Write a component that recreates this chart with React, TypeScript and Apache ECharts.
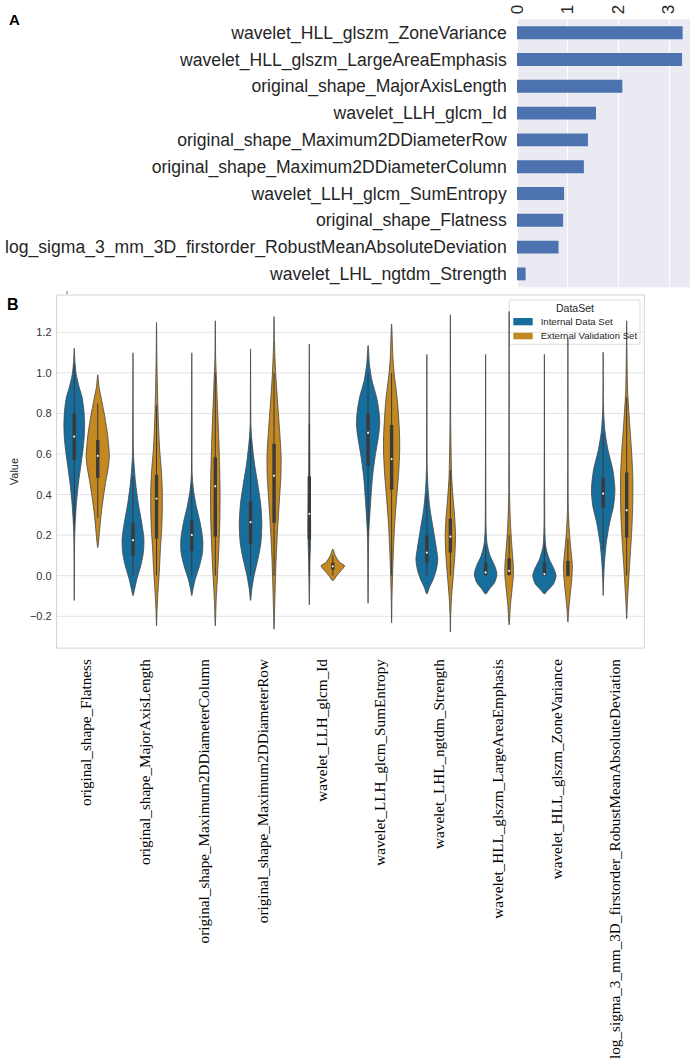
import React, { useEffect, useRef } from "react";
import * as echarts from "echarts";

// ---------- Panel A data ----------
const featuresA = [
  "wavelet_HLL_glszm_ZoneVariance",
  "wavelet_HLL_glszm_LargeAreaEmphasis",
  "original_shape_MajorAxisLength",
  "wavelet_LLH_glcm_Id",
  "original_shape_Maximum2DDiameterRow",
  "original_shape_Maximum2DDiameterColumn",
  "wavelet_LLH_glcm_SumEntropy",
  "original_shape_Flatness",
  "log_sigma_3_mm_3D_firstorder_RobustMeanAbsoluteDeviation",
  "wavelet_LHL_ngtdm_Strength",
];
const importanceA = [3.27, 3.26, 2.08, 1.56, 1.4, 1.32, 0.93, 0.91, 0.82, 0.17];

// ---------- Panel B data ----------
const featuresB = [
  "original_shape_Flatness",
  "original_shape_MajorAxisLength",
  "original_shape_Maximum2DDiameterColumn",
  "original_shape_Maximum2DDiameterRow",
  "wavelet_LLH_glcm_Id",
  "wavelet_LLH_glcm_SumEntropy",
  "wavelet_LHL_ngtdm_Strength",
  "wavelet_HLL_glszm_LargeAreaEmphasis",
  "wavelet_HLL_glszm_ZoneVariance",
  "log_sigma_3_mm_3D_firstorder_RobustMeanAbsoluteDeviation",
];
const hueNames = ["Internal Data Set", "External Validation Set"];
const yTicksB = [-0.2, 0, 0.2, 0.4, 0.6, 0.8, 1.0, 1.2];

// density profiles: [value, relative half-width (1 = full half slot)]
const internalViolins = [
  [[1.122, 0], [1.061, 0.05], [0.996, 0.16], [0.931, 0.41], [0.882, 0.66], [0.816, 0.82], [0.751, 0.88], [0.686, 0.85], [0.62, 0.74], [0.539, 0.55], [0.457, 0.36], [0.359, 0.19], [0.261, 0.08], [0.163, 0.03], [-0.122, 0]],
  [[1.099, 0], [0.62, 0.03], [0.555, 0.08], [0.457, 0.22], [0.359, 0.44], [0.261, 0.74], [0.18, 0.93], [0.114, 0.88], [0.049, 0.66], [-0.016, 0.33], [-0.065, 0.14], [-0.098, 0]],
  [[1.099, 0], [0.506, 0.03], [0.424, 0.14], [0.343, 0.38], [0.261, 0.71], [0.18, 0.93], [0.114, 0.91], [0.049, 0.66], [-0.016, 0.3], [-0.065, 0.11], [-0.098, 0]],
  [[1.118, 0], [0.751, 0.03], [0.669, 0.11], [0.555, 0.33], [0.457, 0.6], [0.359, 0.85], [0.261, 0.96], [0.163, 0.88], [0.082, 0.63], [0.0, 0.3], [-0.065, 0.11], [-0.122, 0]],
  [[1.143, 0], [0.751, 0.03], [0.49, 0.05], [0.359, 0.08], [0.261, 0.11], [0.163, 0.1], [0.065, 0.05], [-0.033, 0.03], [-0.144, 0]],
  [[1.135, 0], [1.045, 0.11], [0.963, 0.33], [0.882, 0.71], [0.816, 0.91], [0.751, 0.99], [0.686, 0.88], [0.588, 0.6], [0.49, 0.38], [0.392, 0.25], [0.294, 0.14], [0.196, 0.05], [-0.136, 0]],
  [[1.091, 0], [0.539, 0.03], [0.424, 0.11], [0.327, 0.27], [0.229, 0.55], [0.131, 0.82], [0.082, 0.93], [0.033, 0.82], [-0.016, 0.55], [-0.057, 0.22], [-0.09, 0]],
  [[1.091, 0], [0.261, 0.03], [0.163, 0.11], [0.098, 0.38], [0.049, 0.77], [0.008, 0.96], [-0.033, 0.77], [-0.065, 0.33], [-0.09, 0]],
  [[1.091, 0], [0.261, 0.03], [0.147, 0.11], [0.082, 0.41], [0.033, 0.82], [0.0, 0.99], [-0.041, 0.77], [-0.073, 0.27], [-0.09, 0]],
  [[1.102, 0], [0.833, 0.03], [0.718, 0.14], [0.62, 0.41], [0.522, 0.82], [0.424, 1.0], [0.343, 0.88], [0.261, 0.55], [0.163, 0.27], [0.065, 0.11], [-0.033, 0.03], [-0.098, 0]],
];
const externalViolins = [
  [[0.991, 0], [0.931, 0.11], [0.865, 0.33], [0.784, 0.6], [0.702, 0.82], [0.62, 0.96], [0.588, 0.99], [0.539, 0.91], [0.473, 0.71], [0.392, 0.49], [0.294, 0.27], [0.212, 0.14], [0.139, 0]],
  [[1.249, 0], [1.078, 0.03], [0.914, 0.08], [0.751, 0.16], [0.62, 0.27], [0.522, 0.41], [0.424, 0.49], [0.327, 0.49], [0.229, 0.44], [0.131, 0.33], [0.033, 0.25], [-0.065, 0.14], [-0.163, 0.05], [-0.248, 0]],
  [[1.257, 0], [1.078, 0.03], [0.996, 0.08], [0.833, 0.19], [0.669, 0.3], [0.506, 0.38], [0.392, 0.41], [0.261, 0.38], [0.131, 0.3], [0.0, 0.19], [-0.114, 0.08], [-0.248, 0]],
  [[1.278, 0], [1.159, 0.03], [0.996, 0.14], [0.833, 0.33], [0.702, 0.49], [0.588, 0.6], [0.49, 0.58], [0.359, 0.44], [0.229, 0.3], [0.098, 0.19], [-0.033, 0.11], [-0.163, 0.05], [-0.264, 0]],
  [[0.131, 0], [0.098, 0.22], [0.065, 0.6], [0.049, 1.0], [0.024, 0.69], [0.0, 0.33], [-0.024, 0]],
  [[1.241, 0], [1.078, 0.11], [0.996, 0.22], [0.865, 0.49], [0.718, 0.66], [0.62, 0.69], [0.506, 0.6], [0.392, 0.44], [0.261, 0.27], [0.131, 0.16], [0.0, 0.08], [-0.114, 0.03], [-0.233, 0]],
  [[1.287, 0], [0.751, 0.03], [0.49, 0.11], [0.392, 0.22], [0.294, 0.36], [0.196, 0.44], [0.098, 0.38], [0.0, 0.25], [-0.098, 0.11], [-0.196, 0.03], [-0.278, 0]],
  [[1.303, 0], [0.424, 0.03], [0.261, 0.11], [0.131, 0.25], [0.049, 0.36], [0.0, 0.36], [-0.065, 0.25], [-0.147, 0.11], [-0.242, 0]],
  [[1.17, 0], [0.343, 0.03], [0.229, 0.11], [0.131, 0.25], [0.049, 0.38], [-0.016, 0.33], [-0.098, 0.19], [-0.163, 0.08], [-0.229, 0]],
  [[1.257, 0], [1.135, 0.02], [0.914, 0.08], [0.751, 0.25], [0.62, 0.41], [0.49, 0.52], [0.359, 0.52], [0.229, 0.44], [0.098, 0.3], [-0.033, 0.16], [-0.147, 0.05], [-0.212, 0]],
];
// [q1, median, q3, whiskerLow, whiskerHigh]
const internalBoxes = [
  [0.571, 0.686, 0.8, 0.25, 1.04],
  [0.098, 0.175, 0.261, 0.0, 0.49],
  [0.122, 0.201, 0.273, 0.0, 0.45],
  [0.155, 0.264, 0.367, 0.0, 0.68],
  [0.18, 0.305, 0.49, 0.0, 0.75],
  [0.539, 0.705, 0.8, 0.2, 1.0],
  [0.062, 0.114, 0.199, 0.0, 0.4],
  [0.003, 0.016, 0.065, 0.0, 0.15],
  [0.0, 0.008, 0.065, 0.0, 0.16],
  [0.335, 0.405, 0.482, 0.13, 0.7],
];
const externalBoxes = [
  [0.482, 0.591, 0.669, 0.286, 0.849],
  [0.183, 0.38, 0.498, 0.0, 0.84],
  [0.193, 0.441, 0.584, 0.0, 1.0],
  [0.261, 0.493, 0.65, 0.0, 1.0],
  [0.029, 0.046, 0.065, 0.0, 0.1],
  [0.424, 0.575, 0.743, 0.0, 1.0],
  [0.114, 0.193, 0.281, 0.0, 0.52],
  [0.003, 0.024, 0.085, 0.0, 0.2],
  [-0.003, 0.029, 0.073, 0.0, 0.18],
  [0.188, 0.323, 0.509, 0.0, 0.88],
];

const BLUE = "#176d9c";
const ORANGE = "#c38820";
const SANS = "'Liberation Sans', Arial, sans-serif";
const SERIF = "'Liberation Serif', 'Times New Roman', serif";

function violinRenderer(profiles: number[][][], boxes: number[][], offset: number, color: string) {
  return (params: any, api: any) => {
    const i = api.value(0);
    const prof = profiles[i];
    const box = boxes[i];
    const band = api.size([1, 0])[0];
    const cx = api.coord([i, 0])[0] + offset * band;
    const maxHw = 0.2 * band;
    const py = (v: number) => api.coord([i, v])[1];
    const right = prof.map(([v, w]) => [cx + w * maxHw, py(v)]);
    const left = prof
      .slice(1, prof.length - 1)
      .reverse()
      .map(([v, w]) => [cx - w * maxHw, py(v)]);
    const pts = right.concat(left);
    const [q1, med, q3, lo, hi] = box;
    return {
      type: "group",
      children: [
        {
          type: "polygon",
          shape: { points: pts, smooth: 0.25 },
          style: { fill: color, stroke: "#454545", lineWidth: 0.8 },
        },
        {
          type: "line",
          shape: { x1: cx, y1: py(lo), x2: cx, y2: py(hi) },
          style: { stroke: "#3a3a3a", lineWidth: 1 },
        },
        {
          type: "rect",
          shape: { x: cx - 1.7, y: py(q3), width: 3.4, height: py(q1) - py(q3) },
          style: { fill: "#3a3a3a" },
        },
        {
          type: "circle",
          shape: { cx: cx, cy: py(med), r: 1.1 },
          style: { fill: "#f2f2f2" },
        },
      ],
    };
  };
}

export default function App() {
  const ref = useRef<HTMLDivElement>(null);
  useEffect(() => {
    if (!ref.current) return;
    const chart = echarts.init(ref.current, null, { renderer: "svg" });
    const option: any = {
      animation: false,
      backgroundColor: "#ffffff",
      grid: [
        {
          left: 517,
          top: 19.3,
          width: 173.7,
          height: 268,
          show: true,
          backgroundColor: "#eaeaf2",
          borderWidth: 0,
        },
        {
          left: 38.3,
          top: 295,
          width: 606,
          height: 354.3,
          show: true,
          backgroundColor: "#ffffff",
          borderColor: "#d3d3d3",
          borderWidth: 1,
        },
      ],
      xAxis: [
        {
          gridIndex: 0,
          type: "value",
          position: "top",
          min: 0,
          max: 3.43,
          interval: 1,
          axisLine: { show: false },
          axisTick: { show: false },
          splitLine: { show: true, lineStyle: { color: "#ffffff", width: 1 } },
          axisLabel: {
            rotate: -90,
            margin: 5,
            fontSize: 17,
            color: "#262626",
            fontFamily: SANS,
            showMaxLabel: false,
          },
        },
        {
          gridIndex: 1,
          type: "category",
          data: featuresB,
          axisLine: { show: false },
          axisTick: { show: false },
          splitLine: { show: false },
          axisLabel: {
            interval: 0,
            rotate: 90,
            margin: 11,
            fontSize: 15.2,
            color: "#000000",
            fontFamily: SERIF,
          },
        },
      ],
      yAxis: [
        {
          gridIndex: 0,
          type: "category",
          inverse: true,
          data: featuresA,
          axisLine: { show: false },
          axisTick: { show: false },
          axisLabel: {
            interval: 0,
            margin: 10.3,
            fontSize: 17.6,
            color: "#262626",
            fontFamily: SANS,
          },
        },
        {
          gridIndex: 1,
          type: "value",
          min: -0.357,
          max: 1.384,
          axisLine: { show: false },
          axisTick: { show: false },
          splitLine: { show: false },
          name: "Value",
          nameLocation: "middle",
          nameGap: 32,
          nameTextStyle: { fontSize: 11, color: "#262626", fontFamily: SANS },
          axisLabel: {
            customValues: yTicksB,
            margin: 5,
            fontSize: 11,
            color: "#333333",
            fontFamily: SANS,
            formatter: (v: number) =>
              v < 0 ? "\u2212" + Math.abs(v).toFixed(1) : v.toFixed(1),
          },
        },
      ],
      series: [
        {
          type: "bar",
          name: "importance",
          xAxisIndex: 0,
          yAxisIndex: 0,
          data: importanceA,
          barWidth: "48%",
          itemStyle: { color: "#4c72b0" },
          z: 3,
        },
        {
          type: "custom",
          name: "gridlines",
          xAxisIndex: 1,
          yAxisIndex: 1,
          silent: true,
          z: 1,
          data: yTicksB.map((v) => [0, v]),
          renderItem: (params: any, api: any) => {
            const cs = params.coordSys;
            const y = api.coord([0, api.value(1)])[1];
            return {
              type: "line",
              shape: { x1: cs.x, y1: y, x2: cs.x + cs.width, y2: y },
              style: { stroke: "#e3e3e3", lineWidth: 1 },
            };
          },
        },
        {
          type: "custom",
          name: hueNames[0],
          xAxisIndex: 1,
          yAxisIndex: 1,
          z: 2,
          data: featuresB.map((_, i) => [i, internalBoxes[i][1]]),
          encode: { x: 0, y: 1 },
          renderItem: violinRenderer(internalViolins, internalBoxes, -0.2, BLUE),
        },
        {
          type: "custom",
          name: hueNames[1],
          xAxisIndex: 1,
          yAxisIndex: 1,
          z: 2,
          data: featuresB.map((_, i) => [i, externalBoxes[i][1]]),
          encode: { x: 0, y: 1 },
          renderItem: violinRenderer(externalViolins, externalBoxes, 0.2, ORANGE),
        },
      ],
      graphic: [
        {
          type: "text",
          left: 9,
          top: 12,
          style: { text: "A", font: `bold 15px ${SANS}`, fill: "#000000" },
        },
        {
          type: "text",
          left: 7,
          top: 296,
          style: { text: "B", font: `bold 16px ${SANS}`, fill: "#000000" },
        },
        {
          type: "line",
          shape: { x1: 67, y1: 291, x2: 67, y2: 294 },
          style: { stroke: "#444444", lineWidth: 0.8 },
        },
        {
          type: "group",
          z: 50,
          children: [
            {
              type: "rect",
              shape: { x: 509.3, y: 300, width: 130.7, height: 44.3, r: 2 },
              style: { fill: "rgba(255,255,255,0.8)", stroke: "#d6d6d6", lineWidth: 0.8 },
            },
            {
              type: "text",
              x: 575,
              y: 307.7,
              style: {
                text: "DataSet",
                font: `10.5px ${SANS}`,
                fill: "#262626",
                align: "center",
                verticalAlign: "middle",
              },
            },
            {
              type: "rect",
              shape: { x: 513.3, y: 318, width: 19.4, height: 7.3 },
              style: { fill: BLUE },
            },
            {
              type: "rect",
              shape: { x: 513.3, y: 332, width: 19.4, height: 7.3 },
              style: { fill: ORANGE },
            },
            {
              type: "text",
              x: 540.7,
              y: 321.7,
              style: {
                text: hueNames[0],
                font: `9.6px ${SANS}`,
                fill: "#262626",
                verticalAlign: "middle",
              },
            },
            {
              type: "text",
              x: 540.7,
              y: 335.7,
              style: {
                text: hueNames[1],
                font: `9.6px ${SANS}`,
                fill: "#262626",
                verticalAlign: "middle",
              },
            },
          ],
        },
      ],
    };
    chart.setOption(option);
    return () => chart.dispose();
  }, []);
  return (
    <div
      ref={ref}
      style={{ position: "absolute", left: 0, top: 0, width: 697, height: 1062 }}
    />
  );
}
